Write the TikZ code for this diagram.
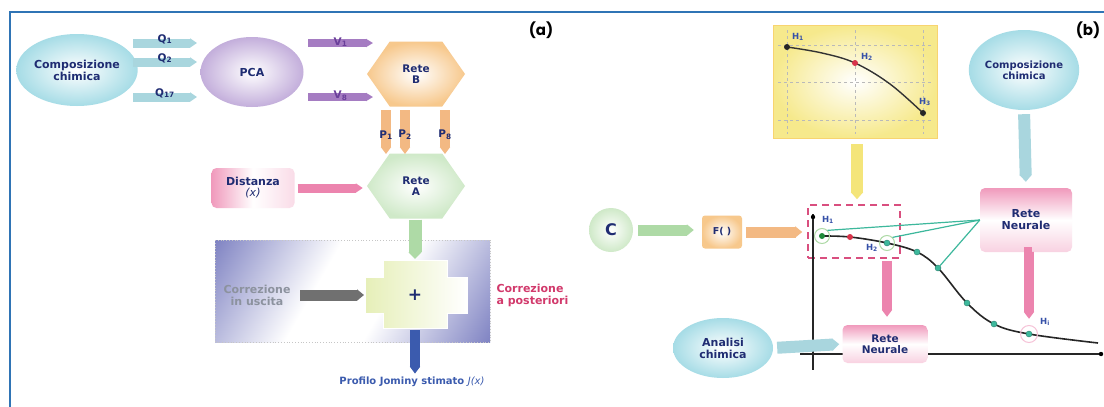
\documentclass[tikz,border=0pt]{standalone}
\usepackage{fontspec}
\setmainfont{DejaVu Sans}
\newfontfamily\labfont{Poppins}
\usetikzlibrary{shapes.geometric,shapes.symbols,arrows.meta,calc}
\definecolor{navy}{HTML}{1F2C72}
\definecolor{frameblue}{HTML}{2F74B5}
\definecolor{cyanF}{HTML}{A6DCE6}
\definecolor{cyanA}{HTML}{A9D6DE}
\definecolor{lav}{HTML}{C3AEDB}
\definecolor{purA}{HTML}{A57CC2}
\definecolor{purT}{HTML}{6A3F9A}
\definecolor{orgF}{HTML}{F7C88C}
\definecolor{orgA}{HTML}{F3B983}
\definecolor{grnF}{HTML}{CFE9C8}
\definecolor{grnA}{HTML}{AEDAA6}
\definecolor{pinkF}{HTML}{F09ABC}
\definecolor{pinkA}{HTML}{EC84AE}
\definecolor{greyA}{HTML}{707070}
\definecolor{blueA}{HTML}{3B5BAE}
\definecolor{crim}{HTML}{D23A6C}
\definecolor{greyT}{HTML}{8C929E}
\definecolor{rectB}{HTML}{5459AE}
\definecolor{yelF}{HTML}{F6E98C}
\definecolor{yelA}{HTML}{F4E57A}
\definecolor{tealL}{HTML}{3DB89C}
\definecolor{dgreen}{HTML}{1E8A3A}
\definecolor{redd}{HTML}{D8344A}
\definecolor{dashred}{HTML}{D94F7F}
\definecolor{crossF}{HTML}{E6EFB8}
\definecolor{hblue}{HTML}{3550A8}
\pgfdeclarehorizontalshading{bwb}{100bp}{color(0bp)=(rectB); color(12bp)=(rectB!85); color(42bp)=(white); color(58bp)=(white); color(88bp)=(rectB!85); color(100bp)=(rectB)}
\tikzset{
  lbl/.style={font=\fontsize{11}{12}\selectfont\bfseries, text=navy, align=center},
  ell/.style={ellipse, inner sep=0pt},
  barrow/.style={line width=#1, -{Triangle[length=7pt,width=#1]}},
  barrow/.default=9pt,
  hexa/.style={signal, signal to=east and west, signal pointer angle=110, inner sep=0pt, minimum width=98pt, minimum height=65pt},
  pbox/.style={rectangle, rounded corners=5pt, top color=pinkF, bottom color=pinkF!45, middle color=white, lbl},
  htxt/.style={font=\fontsize{8.5}{8.5}\selectfont\bfseries, text=hblue},
  tdot/.style={circle, fill=tealL, draw=tealL!70!black, line width=0.4pt, inner sep=0pt, minimum size=6pt},
  qlab/.style={font=\fontsize{10.5}{11}\selectfont\bfseries, text=navy},
}
\begin{document}
\begin{tikzpicture}[x=1pt,y=-1pt]
\useasboundingbox (0,0) rectangle (1104,407);
\fill[white] (0,0) rectangle (1104,407);
\draw[frameblue, line width=1.2pt] (10,407) -- (10,12) -- (1104,12);

% ---------------- panel (a)
\node[font=\labfont\bfseries\fontsize{15}{15}\selectfont] (la) at (541,30) {(a)};
\node[ell, minimum width=103pt, minimum height=72pt, inner color=white, outer color=cyanF, lbl] (comp) at (77,70) {Composizione\\chimica};
\node[ell, minimum width=103pt, minimum height=70pt, inner color=white, outer color=lav, lbl] (pca) at (252,72) {PCA};

\coordinate (q1a) at (133,43); \coordinate (q1b) at (197,43);
\coordinate (q2a) at (133,62); \coordinate (q2b) at (197,62);
\coordinate (q3a) at (133,97); \coordinate (q3b) at (197,97);
\draw[barrow=9pt, cyanA] (q1a) -- (q1b) node[midway, qlab, yshift=4pt] {Q\textsubscript{1}};
\draw[barrow=9pt, cyanA] (q2a) -- (q2b) node[midway, qlab, yshift=4pt] {Q\textsubscript{2}};
\draw[barrow=9pt, cyanA] (q3a) -- (q3b) node[midway, qlab, yshift=4pt] {Q\textsubscript{17}};

\node[hexa, inner color=white, outer color=orgF, lbl, font=\fontsize{10.5}{11.5}\selectfont\bfseries] (reteB) at (416,74) {Rete\\B};

\coordinate (v1a) at (308,43); \coordinate (v1b) at (373,43);
\coordinate (v2a) at (308,97); \coordinate (v2b) at (373,97);
\draw[barrow=8pt, purA] (v1a) -- (v1b) node[midway, qlab, text=purT, yshift=1pt] {V\textsubscript{1}};
\draw[barrow=8pt, purA] (v2a) -- (v2b) node[midway, qlab, text=purT, yshift=1pt] {V\textsubscript{8}};

\node[hexa, inner color=white, outer color=grnF, lbl, font=\fontsize{10.5}{11.5}\selectfont\bfseries] (reteA) at (416,186) {Rete\\A};

\coordinate (p1a) at (386,110); \coordinate (p1b) at (386,154);
\coordinate (p2a) at (405,110); \coordinate (p2b) at (405,154);
\coordinate (p3a) at (445,110); \coordinate (p3b) at (445,154);
\draw[barrow=10pt, orgA] (p1a) -- (p1b);
\draw[barrow=10pt, orgA] (p2a) -- (p2b);
\draw[barrow=10pt, orgA] (p3a) -- (p3b);
\node[qlab] (p1l) at (386,135) {P\textsubscript{1}};
\node[qlab] (p2l) at (405,135) {P\textsubscript{2}};
\node[qlab] (p3l) at (445,135) {P\textsubscript{8}};

\node[pbox, minimum width=83pt, minimum height=40pt, left color=pinkF, right color=pinkF!35, middle color=white] (dist) at (253,188) {Distanza\\[-1pt]{\mdseries\itshape (x)}};
\draw[barrow=9pt, pinkA, shorten <=3pt, shorten >=4pt] (dist.east) -- (reteA.west |- dist.east);

% big correction rectangle
\path[shading=bwb, shading angle=-30] (215,240) rectangle (490,342);
\draw[dotted, gray!45, line width=0.8pt] (215,240) rectangle (490,342);

\coordinate (crossTop) at (415,259);
\draw[barrow=13pt, grnA, shorten <=1pt] (reteA.south -| crossTop) -- (crossTop);

\path[left color=crossF, right color=white, draw=white, line width=0.8pt]
  (383,260) -- (447,260) -- (447,277) -- (467,277) -- (467,313) -- (447,313) -- (447,328)
  -- (383,328) -- (383,313) -- (365,313) -- (365,277) -- (383,277) -- cycle;
\node[text=navy, font=\fontsize{17}{17}\selectfont\bfseries] (plus) at (415,295) {+};

\node[lbl, text=greyT] (uscita) at (257,295) {Correzione\\in uscita};
\coordinate (crossL) at (364,295);
\draw[barrow=11pt, greyA, shorten <=6pt] (uscita.east |- crossL) -- (crossL);

\node[lbl, text=crim, align=left, anchor=west] (post) at (493,295) {Correzione\\a posteriori};

\coordinate (crossB) at (415,330);
\node[lbl, font=\fontsize{10}{11}\selectfont\bfseries, text=blueA] (prof) at (412,382) {Profilo Jominy stimato {\mdseries\itshape J(x)}};
\draw[barrow=10pt, blueA] (crossB) -- (prof.north -| crossB);

% ---------------- panel (b)
\node[font=\labfont\bfseries\fontsize{15}{15}\selectfont] (lb) at (1088,30) {(b)};

% inset chart
\node[rectangle, minimum width=164pt, minimum height=113pt, inner color=white, outer color=yelF, draw=yelF!80!orange, line width=0.6pt] (inset) at (855,81.5) {};
\draw[dashed, gray!55, line width=0.7pt] (787,30) -- (787,134) (855,30) -- (855,134) (923,30) -- (923,134)
  (778,45) -- (932,45) (778,82) -- (932,82) (778,120) -- (932,120);
\draw[line width=1.4pt, black!80] plot[smooth, tension=0.6] coordinates {(787,47) (822,53) (855,63) (890,84) (923,113)};
\node[circle, fill=black!85, inner sep=0pt, minimum size=6pt] (i1) at (787,47) {};
\node[circle, fill=redd, inner sep=0pt, minimum size=6pt] (i2) at (855,63) {};
\node[circle, fill=black!85, inner sep=0pt, minimum size=6pt] (i3) at (923,113) {};
\node[htxt] (i1l) at (798,37) {H\textsubscript{1}};
\node[htxt] (i2l) at (867,57) {H\textsubscript{2}};
\node[htxt] (i3l) at (925,102) {H\textsubscript{3}};

\node[ell, minimum width=92pt, minimum height=80pt, inner color=white, outer color=cyanF, lbl, font=\fontsize{10}{11}\selectfont\bfseries] (comp2) at (1024,70) {Composizione\\chimica};
\node[pbox, minimum width=92pt, minimum height=64pt] (rn2) at (1026,220) {Rete\\Neurale};
\draw[barrow=12pt, cyanA, shorten <=4pt, shorten >=6pt] (comp2.south) -- (rn2.north);

\node[circle, minimum size=44pt, inner sep=0pt, inner color=white, outer color=grnF, lbl, font=\fontsize{16}{16}\selectfont\bfseries] (C) at (611,230) {C};
\node[rectangle, rounded corners=3pt, minimum width=40pt, minimum height=33pt, inner color=white, outer color=orgF, lbl, font=\fontsize{9.5}{9.5}\selectfont\bfseries] (F) at (722,232) {F( )};
\node[draw=dashred, dash pattern=on 7pt off 5pt, line width=1.6pt, minimum width=92pt, minimum height=53pt, inner sep=0pt] (dr) at (854,231.5) {};
\draw[barrow=11pt, grnA, shorten <=5pt, shorten >=8pt] (C.east) -- (F.west |- C.east);
\draw[barrow=11pt, orgA, shorten <=4pt, shorten >=5pt] (F.east) -- (dr.west |- F.east);
\draw[barrow=12pt, yelA, shorten <=6pt, shorten >=5pt] (inset.south -| 857,0) -- (dr.north -| 857,0);

% axes
\draw[line width=1.6pt, black!85] (813,214) -- (813,370);
\draw[line width=1.6pt, black!85] (800,354) -- (1101,354);
\fill[black] (813,217) circle (2.2pt) (1101,354) circle (2.2pt);

% curve
\draw[line width=1.6pt, black!85] plot[smooth, tension=0.6] coordinates {(822,236) (850,237) (887,243) (917,252) (938,268) (967,303) (994,324) (1029,334) (1098,343)};
\node[circle, draw=grnA, line width=1pt, minimum size=15pt, inner sep=0pt] (h1r) at (822,236) {};
\node[circle, draw=grnA, line width=1pt, minimum size=15pt, inner sep=0pt] (h2r) at (887,243) {};
\node[circle, draw=pinkF!60, line width=1pt, minimum size=17pt, inner sep=0pt] (hir) at (1029,334) {};
\node[circle, fill=dgreen, inner sep=0pt, minimum size=6pt] (h1) at (822,236) {};
\node[circle, fill=redd, inner sep=0pt, minimum size=6pt] (hr) at (850,237) {};
\node[tdot] (h2) at (887,243) {};
\node[tdot] (d1) at (917,252) {};
\node[tdot] (d2) at (938,268) {};
\node[tdot] (d3) at (967,303) {};
\node[tdot] (d4) at (994,324) {};
\node[tdot] (hi) at (1029,334) {};
\node[htxt] (h1l) at (828,220) {H\textsubscript{1}};
\node[htxt] (h2l) at (872,248) {H\textsubscript{2}};
\node[htxt] (hil) at (1045,322) {H\textsubscript{i}};

\draw[tealL, line width=1.2pt] (rn2.west) -- (h1r.north east);
\draw[tealL, line width=1.2pt] (rn2.west) -- (h2r.north east);
\draw[tealL, line width=1.2pt] (rn2.west) -- (d2);

\draw[barrow=10pt, pinkA, shorten <=6pt, shorten >=12pt] (rn2.south) -- (hi.center |- rn2.south) -- (hi);

\node[pbox, minimum width=85pt, minimum height=38pt, font=\fontsize{10.5}{11.5}\selectfont\bfseries] (rn1) at (885,344) {Rete\\Neurale};
\draw[barrow=10pt, pinkA, shorten <=2pt, shorten >=8pt] (dr.south -| h2) -- (rn1.north -| h2);

\node[ell, minimum width=100pt, minimum height=60pt, inner color=white, outer color=cyanF, lbl] (ana) at (723,348) {Analisi\\chimica};
\draw[barrow=12pt, cyanA, shorten <=4pt, shorten >=3pt] (ana.east) -- (rn1.west);
\end{tikzpicture}
\end{document}
